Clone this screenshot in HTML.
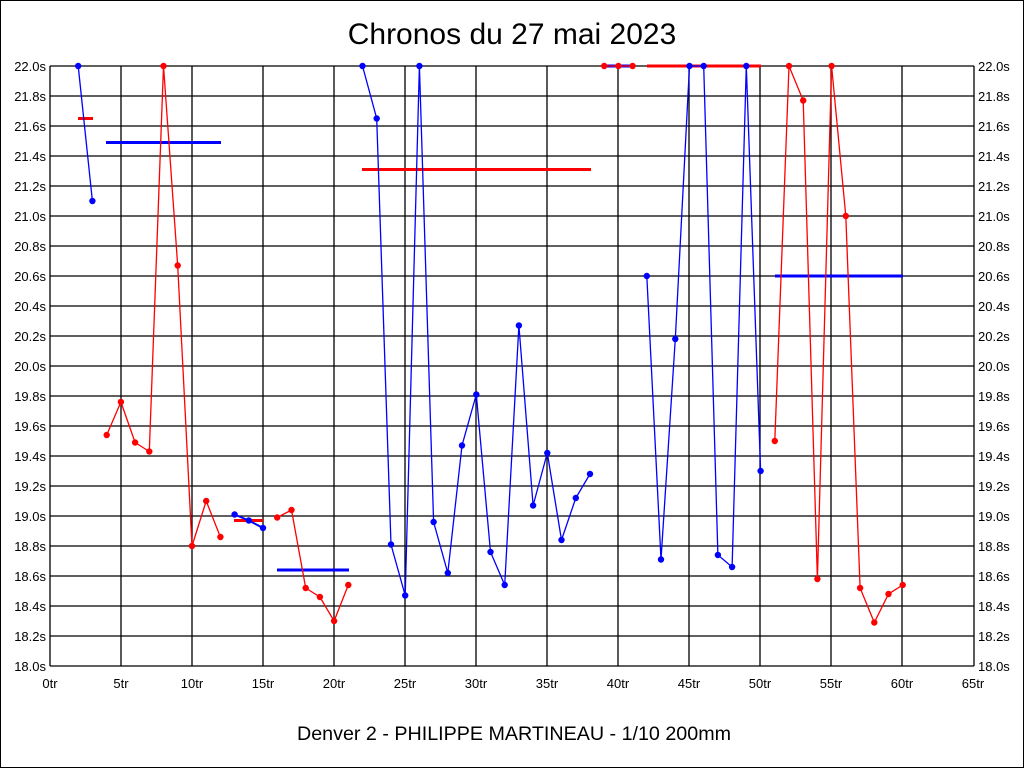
<!DOCTYPE html>
<html><head><meta charset="utf-8"><style>
body{margin:0;background:#fff}
svg{display:block;font-family:"Liberation Sans",Arial,sans-serif}
</style></head><body>
<svg width="1024" height="768" viewBox="0 0 1024 768" xmlns="http://www.w3.org/2000/svg">
<rect x="0.5" y="0.5" width="1023" height="767" fill="#fff" stroke="#000"/>
<text x="512" y="44" font-size="30" text-anchor="middle">Chronos du 27 mai 2023</text>
<text x="514" y="740" font-size="19.7" text-anchor="middle">Denver 2 - PHILIPPE MARTINEAU - 1/10 200mm</text>
<g stroke="#000" stroke-width="1.3">
<line x1="50" y1="66" x2="974" y2="66"/><line x1="50" y1="96" x2="974" y2="96"/><line x1="50" y1="126" x2="974" y2="126"/><line x1="50" y1="156" x2="974" y2="156"/><line x1="50" y1="186" x2="974" y2="186"/><line x1="50" y1="216" x2="974" y2="216"/><line x1="50" y1="246" x2="974" y2="246"/><line x1="50" y1="276" x2="974" y2="276"/><line x1="50" y1="306" x2="974" y2="306"/><line x1="50" y1="336" x2="974" y2="336"/><line x1="50" y1="366" x2="974" y2="366"/><line x1="50" y1="396" x2="974" y2="396"/><line x1="50" y1="426" x2="974" y2="426"/><line x1="50" y1="456" x2="974" y2="456"/><line x1="50" y1="486" x2="974" y2="486"/><line x1="50" y1="516" x2="974" y2="516"/><line x1="50" y1="546" x2="974" y2="546"/><line x1="50" y1="576" x2="974" y2="576"/><line x1="50" y1="606" x2="974" y2="606"/><line x1="50" y1="636" x2="974" y2="636"/><line x1="50" y1="666" x2="974" y2="666"/>
<line x1="50" y1="66" x2="50" y2="666"/><line x1="121" y1="66" x2="121" y2="666"/><line x1="192" y1="66" x2="192" y2="666"/><line x1="263" y1="66" x2="263" y2="666"/><line x1="334" y1="66" x2="334" y2="666"/><line x1="405" y1="66" x2="405" y2="666"/><line x1="476" y1="66" x2="476" y2="666"/><line x1="547" y1="66" x2="547" y2="666"/><line x1="618" y1="66" x2="618" y2="666"/><line x1="689" y1="66" x2="689" y2="666"/><line x1="760" y1="66" x2="760" y2="666"/><line x1="831" y1="66" x2="831" y2="666"/><line x1="902" y1="66" x2="902" y2="666"/><line x1="974" y1="66" x2="974" y2="666"/>
</g>
<g font-size="13" text-anchor="end">
<text x="46" y="71">22.0s</text><text x="46" y="101">21.8s</text><text x="46" y="131">21.6s</text><text x="46" y="161">21.4s</text><text x="46" y="191">21.2s</text><text x="46" y="221">21.0s</text><text x="46" y="251">20.8s</text><text x="46" y="281">20.6s</text><text x="46" y="311">20.4s</text><text x="46" y="341">20.2s</text><text x="46" y="371">20.0s</text><text x="46" y="401">19.8s</text><text x="46" y="431">19.6s</text><text x="46" y="461">19.4s</text><text x="46" y="491">19.2s</text><text x="46" y="521">19.0s</text><text x="46" y="551">18.8s</text><text x="46" y="581">18.6s</text><text x="46" y="611">18.4s</text><text x="46" y="641">18.2s</text><text x="46" y="671">18.0s</text>
</g>
<g font-size="13" text-anchor="start">
<text x="978" y="71">22.0s</text><text x="978" y="101">21.8s</text><text x="978" y="131">21.6s</text><text x="978" y="161">21.4s</text><text x="978" y="191">21.2s</text><text x="978" y="221">21.0s</text><text x="978" y="251">20.8s</text><text x="978" y="281">20.6s</text><text x="978" y="311">20.4s</text><text x="978" y="341">20.2s</text><text x="978" y="371">20.0s</text><text x="978" y="401">19.8s</text><text x="978" y="431">19.6s</text><text x="978" y="461">19.4s</text><text x="978" y="491">19.2s</text><text x="978" y="521">19.0s</text><text x="978" y="551">18.8s</text><text x="978" y="581">18.6s</text><text x="978" y="611">18.4s</text><text x="978" y="641">18.2s</text><text x="978" y="671">18.0s</text>
</g>
<g font-size="13" text-anchor="middle">
<text x="50" y="688">0tr</text><text x="121" y="688">5tr</text><text x="192" y="688">10tr</text><text x="263" y="688">15tr</text><text x="334" y="688">20tr</text><text x="405" y="688">25tr</text><text x="476" y="688">30tr</text><text x="547" y="688">35tr</text><text x="618" y="688">40tr</text><text x="689" y="688">45tr</text><text x="760" y="688">50tr</text><text x="831" y="688">55tr</text><text x="902" y="688">60tr</text><text x="973" y="688">65tr</text>
</g>
<g stroke-width="3">
<line x1="78" y1="118.5" x2="93" y2="118.5" stroke="#f00"/>
<line x1="106" y1="142.5" x2="221" y2="142.5" stroke="#00f"/>
<line x1="234" y1="520.5" x2="263" y2="520.5" stroke="#f00"/>
<line x1="277" y1="570" x2="349" y2="570" stroke="#00f"/>
<line x1="362" y1="169.5" x2="591" y2="169.5" stroke="#f00"/>
<line x1="604" y1="66" x2="633" y2="66" stroke="#00f"/>
<line x1="647" y1="66" x2="761" y2="66" stroke="#f00"/>
<line x1="775" y1="276" x2="903" y2="276" stroke="#00f"/>
</g>
<g fill="none" stroke-width="1.3">
<polyline stroke="#00f" points="78.2,66 92.4,201"/>
<polyline stroke="#f00" points="106.7,435 120.9,402 135.1,442.5 149.3,451.5 163.5,66 177.7,265.5 192,546 206.2,501 220.4,537"/>
<polyline stroke="#00f" stroke-width="2" points="234.6,514.5 248.8,520.5 263,528"/>
<polyline stroke="#f00" points="277.2,517.5 291.5,510 305.7,588 319.9,597 334.1,621 348.3,585"/>
<polyline stroke="#00f" points="362.5,66 376.7,118.5 391,544.5 405.2,595.5 419.4,66 433.6,522 447.8,573 462,445.5 476.3,394.5 490.5,552 504.7,585 518.9,325.5 533.1,505.5 547.3,453 561.5,540 575.8,498 590,474"/>
<polyline stroke="#f00" points="604.2,66 618.4,66 632.6,66"/>
<polyline stroke="#00f" points="646.8,276 661,559.5 675.3,339 689.5,66 703.7,66 717.9,555 732.1,567 746.3,66 760.6,471"/>
<polyline stroke="#f00" points="774.8,441 789,66 803.2,100.5 817.4,579 831.6,66 845.8,216 860.1,588 874.3,622.5 888.5,594 902.7,585"/>
</g>
<g fill="#00f">
<circle cx="78.2" cy="66" r="3.2"/><circle cx="92.4" cy="201" r="3.2"/>
<circle cx="234.6" cy="514.5" r="3.2"/><circle cx="248.8" cy="520.5" r="3.2"/><circle cx="263" cy="528" r="3.2"/>
<circle cx="362.5" cy="66" r="3.2"/><circle cx="376.7" cy="118.5" r="3.2"/><circle cx="391" cy="544.5" r="3.2"/><circle cx="405.2" cy="595.5" r="3.2"/><circle cx="419.4" cy="66" r="3.2"/><circle cx="433.6" cy="522" r="3.2"/><circle cx="447.8" cy="573" r="3.2"/><circle cx="462" cy="445.5" r="3.2"/><circle cx="476.3" cy="394.5" r="3.2"/><circle cx="490.5" cy="552" r="3.2"/><circle cx="504.7" cy="585" r="3.2"/><circle cx="518.9" cy="325.5" r="3.2"/><circle cx="533.1" cy="505.5" r="3.2"/><circle cx="547.3" cy="453" r="3.2"/><circle cx="561.5" cy="540" r="3.2"/><circle cx="575.8" cy="498" r="3.2"/><circle cx="590" cy="474" r="3.2"/>
<circle cx="646.8" cy="276" r="3.2"/><circle cx="661" cy="559.5" r="3.2"/><circle cx="675.3" cy="339" r="3.2"/><circle cx="689.5" cy="66" r="3.2"/><circle cx="703.7" cy="66" r="3.2"/><circle cx="717.9" cy="555" r="3.2"/><circle cx="732.1" cy="567" r="3.2"/><circle cx="746.3" cy="66" r="3.2"/><circle cx="760.6" cy="471" r="3.2"/>
</g>
<g fill="#f00">
<circle cx="106.7" cy="435" r="3.2"/><circle cx="120.9" cy="402" r="3.2"/><circle cx="135.1" cy="442.5" r="3.2"/><circle cx="149.3" cy="451.5" r="3.2"/><circle cx="163.5" cy="66" r="3.2"/><circle cx="177.7" cy="265.5" r="3.2"/><circle cx="192" cy="546" r="3.2"/><circle cx="206.2" cy="501" r="3.2"/><circle cx="220.4" cy="537" r="3.2"/>
<circle cx="277.2" cy="517.5" r="3.2"/><circle cx="291.5" cy="510" r="3.2"/><circle cx="305.7" cy="588" r="3.2"/><circle cx="319.9" cy="597" r="3.2"/><circle cx="334.1" cy="621" r="3.2"/><circle cx="348.3" cy="585" r="3.2"/>
<circle cx="604.2" cy="66" r="3.2"/><circle cx="618.4" cy="66" r="3.2"/><circle cx="632.6" cy="66" r="3.2"/>
<circle cx="774.8" cy="441" r="3.2"/><circle cx="789" cy="66" r="3.2"/><circle cx="803.2" cy="100.5" r="3.2"/><circle cx="817.4" cy="579" r="3.2"/><circle cx="831.6" cy="66" r="3.2"/><circle cx="845.8" cy="216" r="3.2"/><circle cx="860.1" cy="588" r="3.2"/><circle cx="874.3" cy="622.5" r="3.2"/><circle cx="888.5" cy="594" r="3.2"/><circle cx="902.7" cy="585" r="3.2"/>
</g>
</svg>
</body></html>
